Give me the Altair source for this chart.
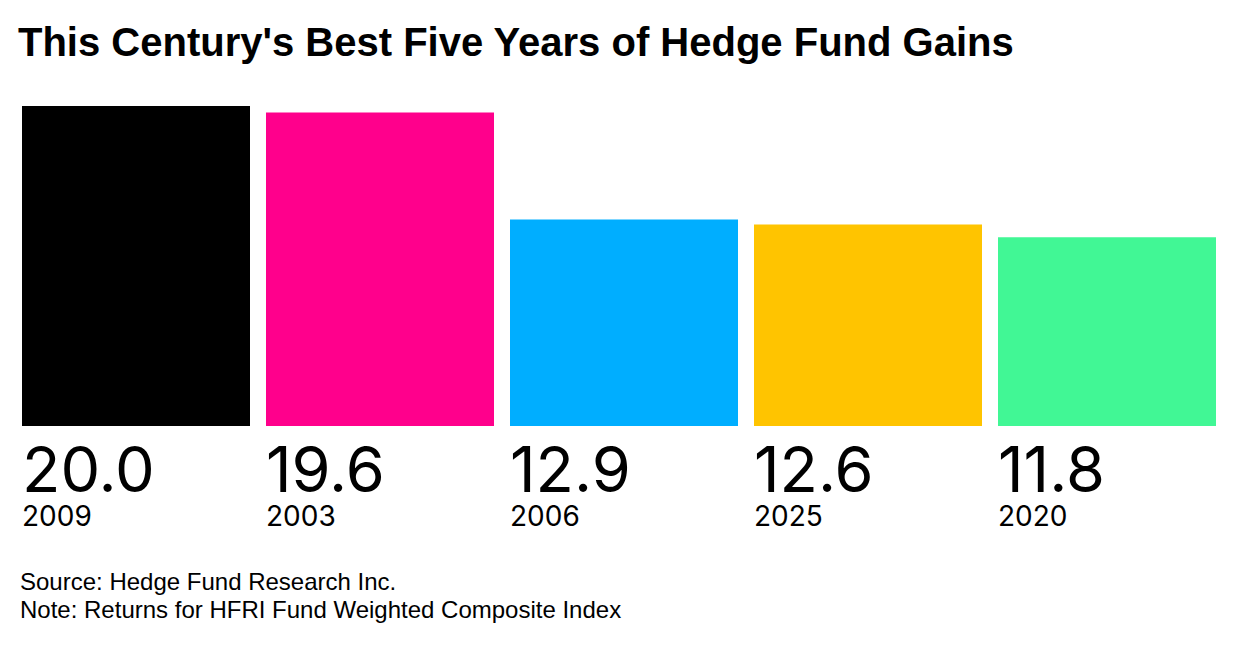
import altair as alt
import pandas as pd

title_text = "This Century's Best Five Years of Hedge Fund Gains"
years = ["2009", "2003", "2006", "2025", "2020"]
gains = [20.0, 19.6, 12.9, 12.6, 11.8]
colors = ["#000000", "#FF008C", "#00AEFF", "#FFC400", "#41F795"]
source_line = "Source: Hedge Fund Research Inc."
note_line = "Note: Returns for HFRI Fund Weighted Composite Index"

df = pd.DataFrame({"year": years, "gain": gains, "color": colors})

W, H = 1194, 320

x_scale = alt.Scale(rangeMin=0, rangeMax=1204, paddingInner=16 / 244, paddingOuter=0)

base = alt.Chart(df)

bars = base.mark_bar(clip=True).encode(
    x=alt.X("year:N", sort=years, axis=None, scale=x_scale),
    y=alt.Y("gain:Q", axis=None, scale=alt.Scale(domain=[0, 20], nice=False)),
    color=alt.Color("color:N", scale=None),
)

num_font = "Inter"

values_text = base.mark_text(
    align="left", baseline="alphabetic", font=num_font, fontSize=63,
    color="#000000",
).encode(
    x=alt.X("year:N", sort=years, bandPosition=0),
    y=alt.value(H + 66),
    text=alt.Text("gain:Q", format=".1f"),
)

years_text = base.mark_text(
    align="left", baseline="alphabetic", font=num_font, fontSize=28,
    color="#000000",
).encode(
    x=alt.X("year:N", sort=years, bandPosition=0),
    y=alt.value(H + 100),
    text="year:N",
)

one = alt.Data(values=[{}])
src = alt.Chart(one).mark_text(
    align="left", baseline="alphabetic", font="Liberation Sans", fontSize=24, color="#000000"
).encode(x=alt.value(-2), y=alt.value(484), text=alt.value(source_line))
note = alt.Chart(one).mark_text(
    align="left", baseline="alphabetic", font="Liberation Sans", fontSize=24, color="#000000"
).encode(x=alt.value(-2), y=alt.value(512), text=alt.value(note_line))

chart = alt.layer(bars, values_text, years_text, src, note).properties(
    width=W, height=H,
    title=alt.TitleParams(
        title_text, anchor="start", font="Liberation Sans", fontSize=40,
        fontWeight="bold", color="#000000", baseline="alphabetic", offset=10, dx=-2,
    ),
    autosize=alt.AutoSizeParams(type="none"),
    padding={"left": 14, "top": 98, "right": 12, "bottom": 200},
).configure(background="#FFFFFF").configure_view(stroke=None)

chart.save("out.html", embed_options={"renderer": "svg", "actions": False})
